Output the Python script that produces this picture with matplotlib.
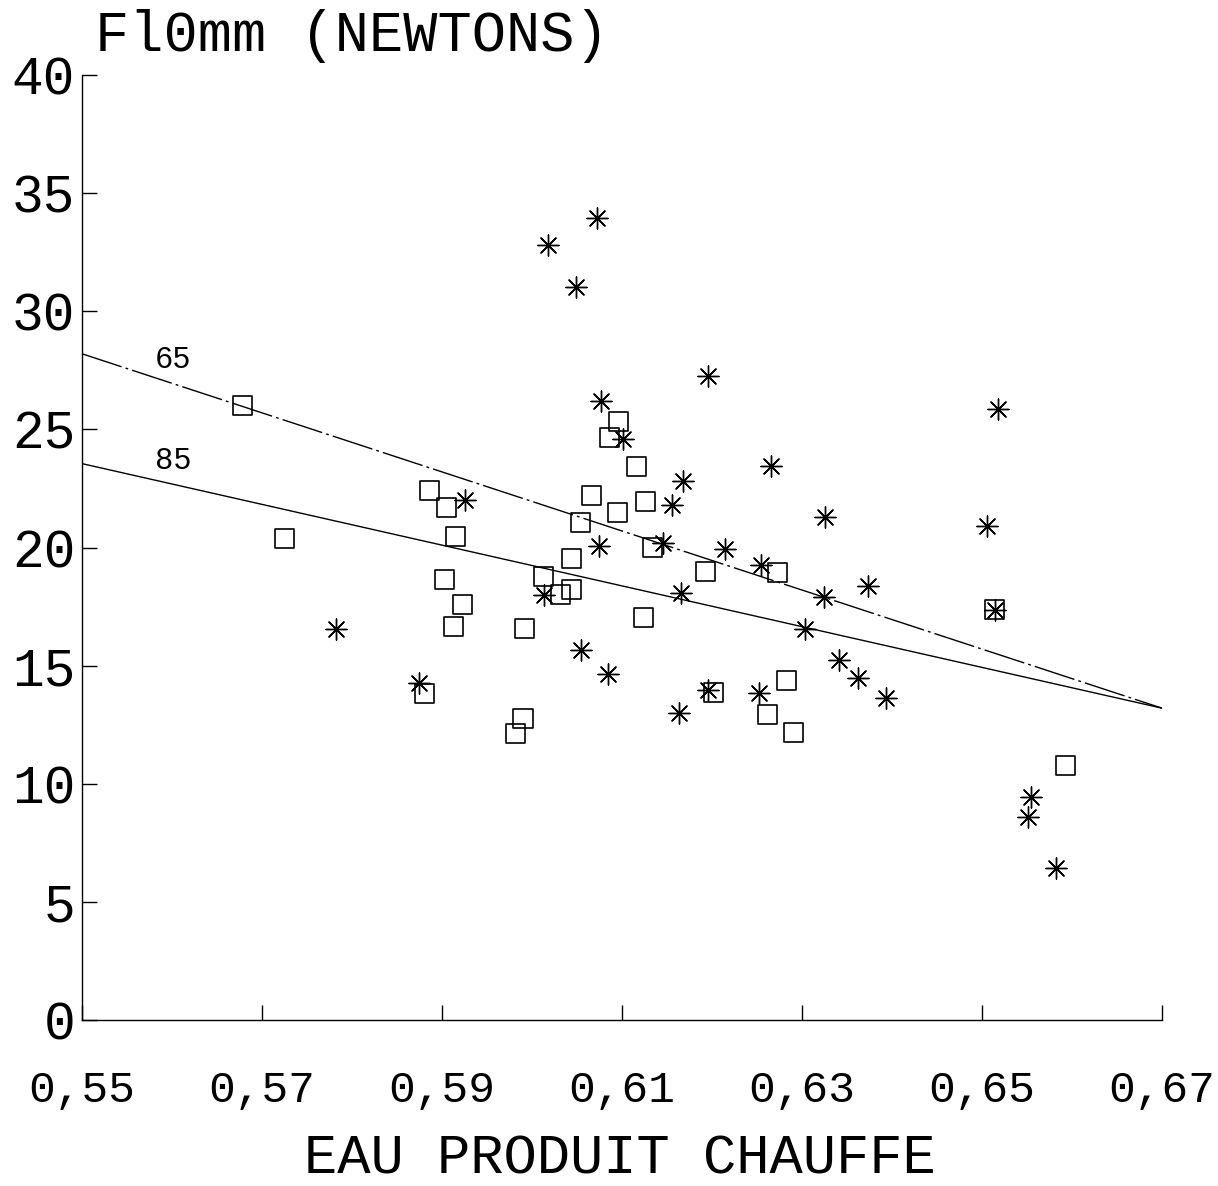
import matplotlib
matplotlib.use("Agg")
import matplotlib.pyplot as plt

plt.rcParams['font.family'] = ['Liberation Mono', 'DejaVu Sans']

# Series plotted with square markers
sq_x = [0.5678, 0.5725, 0.5886, 0.5905, 0.5915, 0.5903, 0.5923, 0.5913, 0.5881,
        0.5982, 0.5990, 0.5992, 0.6013, 0.6032, 0.6044, 0.6044, 0.6054, 0.6066,
        0.6086, 0.6096, 0.6095, 0.6116, 0.6126, 0.6124, 0.6134, 0.6193, 0.6202,
        0.6273, 0.6262, 0.6283, 0.6291, 0.6514, 0.6593]
sq_y = [26.02, 20.38, 22.42, 21.69, 20.47, 18.64, 17.58, 16.65, 13.81,
        12.12, 12.75, 16.57, 18.77, 18.01, 18.22, 19.53, 21.06, 22.20,
        24.66, 25.34, 21.48, 23.43, 21.95, 17.03, 20.00, 18.98, 13.86,
        18.94, 12.92, 14.36, 12.16, 17.37, 10.76]

# Series plotted with asterisk markers
st_x = [0.5782, 0.5874, 0.5926, 0.6018, 0.6049, 0.6072, 0.6077, 0.6101, 0.6075,
        0.6013, 0.6054, 0.6084, 0.6146, 0.6156, 0.6168, 0.6166, 0.6163, 0.6196,
        0.6214, 0.6195, 0.6252, 0.6254, 0.6266, 0.6303, 0.6324, 0.6326, 0.6341,
        0.6362, 0.6373, 0.6393, 0.6506, 0.6518, 0.6514, 0.6554, 0.6551, 0.6582]
st_y = [16.57, 14.28, 21.99, 32.80, 31.02, 33.94, 26.19, 24.58, 20.08,
        18.01, 15.68, 14.66, 20.21, 21.78, 22.80, 18.09, 13.01, 27.25,
        19.92, 13.98, 13.86, 19.28, 23.47, 16.53, 17.92, 21.31, 15.25,
        14.49, 18.35, 13.64, 20.93, 25.85, 17.37, 9.45, 8.60, 6.44]

# Fitted lines for the two groups
line_x = [0.55, 0.67]
line65_y = [28.2, 13.2]
line85_y = [23.55, 13.2]

x_ticks = [0.55, 0.57, 0.59, 0.61, 0.63, 0.65, 0.67]
x_ticklabels = ['0,55', '0,57', '0,59', '0,61', '0,63', '0,65', '0,67']
y_ticks = [0, 5, 10, 15, 20, 25, 30, 35, 40]

fig = plt.figure(figsize=(12.18, 11.86), dpi=100)
ax = fig.add_axes([82 / 1218, 1 - 1020 / 1186, 1080 / 1218, 945 / 1186])

ax.plot(line_x, line65_y, color='black', lw=1.0, linestyle=(0, (30, 3, 2, 3)))
ax.plot(line_x, line85_y, color='black', lw=1.0)

ax.scatter(sq_x, sq_y, marker='s', s=190, facecolors='none',
           edgecolors='black', linewidths=1.2, zorder=3)
ax.scatter(st_x, st_y, marker=(8, 2, 0), s=230, color='black',
           linewidths=1.0, zorder=3)

ax.text(0.5601, 27.95, '65', fontsize=22, ha='center', va='center')
ax.text(0.5601, 23.65, '85', fontsize=22, ha='center', va='center')

ax.set_xlim(0.55, 0.67)
ax.set_ylim(0, 40)
ax.set_xticks(x_ticks)
ax.set_xticklabels(x_ticklabels)
ax.set_yticks(y_ticks)
ax.tick_params(axis='both', direction='in', length=11, width=1.0)
ax.tick_params(axis='x', pad=36, labelsize=32)
ax.tick_params(axis='y', pad=5, labelsize=38)
for side in ('top', 'right'):
    ax.spines[side].set_visible(False)
for side in ('left', 'bottom'):
    ax.spines[side].set_linewidth(1.0)

fig.text(95 / 1218, 1 - 51 / 1186, 'Fl0mm (NEWTONS)', fontsize=41,
         ha='left', va='baseline')
fig.text(620 / 1218, 1 - 1174 / 1186, 'EAU PRODUIT CHAUFFE', fontsize=40,
         ha='center', va='baseline')

fig.savefig('out.png', dpi=100, facecolor='white')
